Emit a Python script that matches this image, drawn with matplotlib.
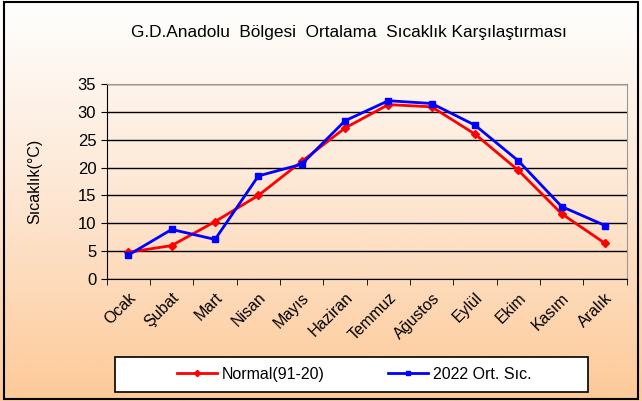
# G.D.Anadolu bölgesi aylık ortalama sıcaklık karşılaştırması

import numpy as np
import matplotlib.pyplot as plt
from matplotlib.colors import LinearSegmentedColormap

plt.rcParams['font.family'] = ['Liberation Sans', 'DejaVu Sans']

aylar = ['Ocak', 'Şubat', 'Mart', 'Nisan', 'Mayıs', 'Haziran',
         'Temmuz', 'Ağustos', 'Eylül', 'Ekim', 'Kasım', 'Aralık']
normal = [4.8, 6.0, 10.3, 15.0, 21.1, 27.1, 31.3, 30.9, 26.0, 19.5, 11.7, 6.4]
sic_2022 = [4.3, 8.9, 7.1, 18.5, 20.6, 28.4, 32.0, 31.5, 27.6, 21.2, 13.0, 9.6]
y_ticks = [0, 5, 10, 15, 20, 25, 30, 35]

fig = plt.figure(figsize=(6.42, 4.01), dpi=100)

# arka plan: yukarıdan aşağı beyazdan şeftaliye geçiş
bg = fig.add_axes([0, 0, 1, 1], zorder=-10)
cmap = LinearSegmentedColormap.from_list('bg', ['#FFFFFF', '#FDE6D2', '#FDCA98'])
bg.imshow(np.linspace(0, 1, 256).reshape(-1, 1), aspect='auto', cmap=cmap,
          extent=[0, 1, 0, 1], origin='upper')
bg.add_patch(plt.Rectangle((0.006, 0.004), 0.988, 0.99, fill=False,
                           edgecolor='black', linewidth=1.5))
# lejant kutusu
bg.add_patch(plt.Rectangle((115 / 642, 1 - 392 / 401), 473 / 642, 35 / 401,
                           facecolor='white', edgecolor='black', linewidth=1.2))
bg.set_xlim(0, 1)
bg.set_ylim(0, 1)
bg.axis('off')

ax = fig.add_axes([106.7 / 642, 1 - 279 / 401, 520 / 642, 195 / 401])
ax.patch.set_alpha(0)

x = np.arange(len(aylar))
ax.plot(x, normal, color='#FF0000', linewidth=2, marker='D', markersize=4.5,
        label='Normal(91-20)', zorder=3)
ax.plot(x, sic_2022, color='#0000FF', linewidth=2, marker='s', markersize=4.5,
        label='2022 Ort. Sıc.', zorder=4)

ax.set_xlim(-0.5, len(aylar) - 0.5)
ax.set_ylim(0, 35)
ax.set_yticks(y_ticks)
ax.set_xticks(x)
ax.set_xticklabels(aylar, rotation=45, ha='right', rotation_mode='anchor', fontsize=11.5)
ax.set_xticks(np.arange(-0.5, len(aylar)), minor=True)
ax.tick_params(axis='x', which='major', length=0, pad=8)
ax.tick_params(axis='x', which='minor', length=4, direction='out', color='black')
ax.tick_params(axis='y', length=4, direction='out', labelsize=12)
ax.yaxis.grid(True, color='black', linewidth=1)
ax.set_axisbelow(True)
for s in ['top', 'right']:
    ax.spines[s].set_color('#999999')
ax.spines['left'].set_color('black')
ax.spines['bottom'].set_color('black')

ax.set_ylabel('Sıcaklık(°C)', fontsize=11.5)
ax.yaxis.set_label_coords((42 - 106.7) / 520, 0.5)
fig.text(349 / 642, 1 - 32 / 401, 'G.D.Anadolu  Bölgesi  Ortalama  Sıcaklık Karşılaştırması',
         ha='center', va='center', fontsize=12.4)

leg = fig.legend(loc='center', bbox_to_anchor=(354 / 642, 1 - 374.5 / 401),
                 ncol=2, frameon=False, fontsize=11.5, markerscale=0.7,
                 columnspacing=4.0, handlelength=2.5, handletextpad=0.3)

plt.savefig('out.png', dpi=100)
